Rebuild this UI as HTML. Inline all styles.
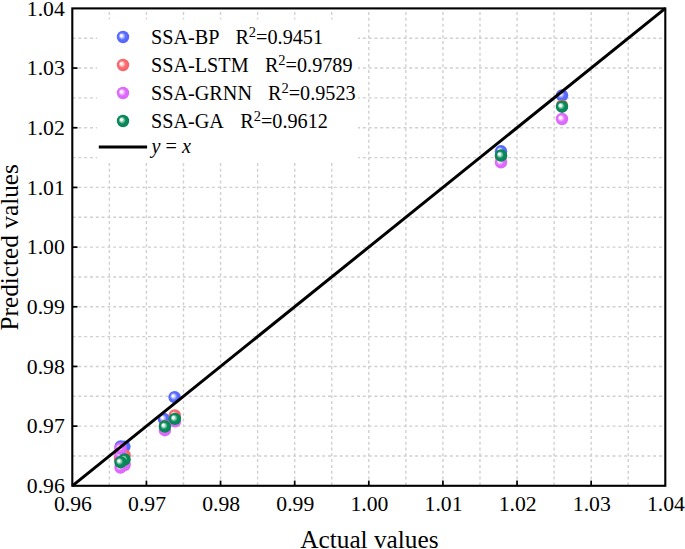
<!DOCTYPE html><html><head><meta charset="utf-8"><style>html,body{margin:0;padding:0;background:#fff;}svg{display:block;}text{font-family:"Liberation Serif",serif;fill:#000;}</style></head><body>
<svg width="685" height="549" viewBox="0 0 685 549">
<defs>
<radialGradient id="gB" cx="0.5" cy="0.5" r="0.5" fx="0.34" fy="0.37" gradientUnits="objectBoundingBox"><stop offset="0" stop-color="#fff"/><stop offset="0.14" stop-color="#fff"/><stop offset="0.58" stop-color="#5a6cff"/><stop offset="1" stop-color="#5566fa"/></radialGradient>
<radialGradient id="gR" cx="0.5" cy="0.5" r="0.5" fx="0.34" fy="0.37" gradientUnits="objectBoundingBox"><stop offset="0" stop-color="#fff"/><stop offset="0.14" stop-color="#fff"/><stop offset="0.58" stop-color="#fa6a6e"/><stop offset="1" stop-color="#f46468"/></radialGradient>
<radialGradient id="gM" cx="0.5" cy="0.5" r="0.5" fx="0.34" fy="0.37" gradientUnits="objectBoundingBox"><stop offset="0" stop-color="#fff"/><stop offset="0.14" stop-color="#fff"/><stop offset="0.58" stop-color="#e06cff"/><stop offset="1" stop-color="#db66fa"/></radialGradient>
<radialGradient id="gG" cx="0.5" cy="0.5" r="0.5" fx="0.34" fy="0.37" gradientUnits="objectBoundingBox"><stop offset="0" stop-color="#fff"/><stop offset="0.14" stop-color="#fff"/><stop offset="0.58" stop-color="#088a5a"/><stop offset="1" stop-color="#078454"/></radialGradient>
</defs>
<rect width="685" height="549" fill="#fff"/>
<g stroke="#d0d0d0" stroke-width="1.4" stroke-dasharray="3 2.806" stroke-dashoffset="2.15" fill="none"><line x1="109.36" y1="8.40" x2="109.36" y2="485.80"/><line x1="146.43" y1="8.40" x2="146.43" y2="485.80"/><line x1="183.49" y1="8.40" x2="183.49" y2="485.80"/><line x1="220.55" y1="8.40" x2="220.55" y2="485.80"/><line x1="257.61" y1="8.40" x2="257.61" y2="485.80"/><line x1="294.68" y1="8.40" x2="294.68" y2="485.80"/><line x1="331.74" y1="8.40" x2="331.74" y2="485.80"/><line x1="368.80" y1="8.40" x2="368.80" y2="485.80"/><line x1="405.86" y1="8.40" x2="405.86" y2="485.80"/><line x1="442.93" y1="8.40" x2="442.93" y2="485.80"/><line x1="479.99" y1="8.40" x2="479.99" y2="485.80"/><line x1="517.05" y1="8.40" x2="517.05" y2="485.80"/><line x1="554.11" y1="8.40" x2="554.11" y2="485.80"/><line x1="591.18" y1="8.40" x2="591.18" y2="485.80"/><line x1="628.24" y1="8.40" x2="628.24" y2="485.80"/></g>
<g stroke="#d0d0d0" stroke-width="1.4" stroke-dasharray="3 2.806" stroke-dashoffset="-0.25" fill="none"><line x1="72.30" y1="455.96" x2="665.30" y2="455.96"/><line x1="72.30" y1="426.12" x2="665.30" y2="426.12"/><line x1="72.30" y1="396.29" x2="665.30" y2="396.29"/><line x1="72.30" y1="366.45" x2="665.30" y2="366.45"/><line x1="72.30" y1="336.61" x2="665.30" y2="336.61"/><line x1="72.30" y1="306.77" x2="665.30" y2="306.77"/><line x1="72.30" y1="276.94" x2="665.30" y2="276.94"/><line x1="72.30" y1="247.10" x2="665.30" y2="247.10"/><line x1="72.30" y1="217.26" x2="665.30" y2="217.26"/><line x1="72.30" y1="187.42" x2="665.30" y2="187.42"/><line x1="72.30" y1="157.59" x2="665.30" y2="157.59"/><line x1="72.30" y1="127.75" x2="665.30" y2="127.75"/><line x1="72.30" y1="97.91" x2="665.30" y2="97.91"/><line x1="72.30" y1="68.07" x2="665.30" y2="68.07"/><line x1="72.30" y1="38.24" x2="665.30" y2="38.24"/></g>
<rect x="97" y="19.5" width="261" height="143.0" fill="#fff"/>
<circle cx="120.7" cy="446.5" r="6.2" fill="url(#gB)"/>
<circle cx="124.4" cy="446.6" r="6.2" fill="url(#gB)"/>
<circle cx="174.6" cy="397.2" r="6.2" fill="url(#gB)"/>
<circle cx="163.9" cy="419.0" r="6.2" fill="url(#gB)"/>
<circle cx="501.0" cy="151.3" r="6.2" fill="url(#gB)"/>
<circle cx="562.0" cy="95.5" r="6.2" fill="url(#gB)"/>
<circle cx="124.6" cy="455.1" r="6.2" fill="url(#gR)"/>
<circle cx="120.0" cy="459.0" r="6.2" fill="url(#gR)"/>
<circle cx="174.8" cy="415.4" r="6.2" fill="url(#gR)"/>
<circle cx="165.0" cy="426.0" r="6.2" fill="url(#gR)"/>
<circle cx="501.0" cy="156.5" r="6.2" fill="url(#gR)"/>
<circle cx="562.0" cy="105.6" r="6.2" fill="url(#gR)"/>
<circle cx="120.3" cy="454.0" r="6.2" fill="url(#gM)"/>
<circle cx="120.4" cy="448.5" r="6.2" fill="url(#gM)"/>
<circle cx="124.6" cy="465.0" r="6.2" fill="url(#gM)"/>
<circle cx="120.5" cy="467.5" r="6.2" fill="url(#gM)"/>
<circle cx="175.0" cy="421.4" r="6.2" fill="url(#gM)"/>
<circle cx="164.9" cy="430.2" r="6.2" fill="url(#gM)"/>
<circle cx="501.0" cy="162.4" r="6.2" fill="url(#gM)"/>
<circle cx="562.0" cy="119.0" r="6.2" fill="url(#gM)"/>
<circle cx="124.6" cy="459.5" r="6.2" fill="url(#gG)"/>
<circle cx="120.5" cy="462.2" r="6.2" fill="url(#gG)"/>
<circle cx="174.9" cy="418.9" r="6.2" fill="url(#gG)"/>
<circle cx="164.9" cy="426.5" r="6.2" fill="url(#gG)"/>
<circle cx="501.0" cy="155.5" r="6.2" fill="url(#gG)"/>
<circle cx="562.0" cy="106.7" r="6.2" fill="url(#gG)"/>
<line x1="72.3" y1="485.8" x2="665.3" y2="8.4" stroke="#000" stroke-width="3.0"/>
<rect x="72.3" y="8.4" width="593.00" height="477.40" fill="none" stroke="#000" stroke-width="2.1"/>
<g stroke="#000" stroke-width="1.7"><line x1="146.43" y1="485.80" x2="146.43" y2="480.60"/><line x1="72.30" y1="426.12" x2="77.50" y2="426.12"/><line x1="220.55" y1="485.80" x2="220.55" y2="480.60"/><line x1="72.30" y1="366.45" x2="77.50" y2="366.45"/><line x1="294.68" y1="485.80" x2="294.68" y2="480.60"/><line x1="72.30" y1="306.77" x2="77.50" y2="306.77"/><line x1="368.80" y1="485.80" x2="368.80" y2="480.60"/><line x1="72.30" y1="247.10" x2="77.50" y2="247.10"/><line x1="442.93" y1="485.80" x2="442.93" y2="480.60"/><line x1="72.30" y1="187.42" x2="77.50" y2="187.42"/><line x1="517.05" y1="485.80" x2="517.05" y2="480.60"/><line x1="72.30" y1="127.75" x2="77.50" y2="127.75"/><line x1="591.18" y1="485.80" x2="591.18" y2="480.60"/><line x1="72.30" y1="68.07" x2="77.50" y2="68.07"/></g>
<text x="72.90" y="510.5" font-size="21.7" text-anchor="middle">0.96</text>
<text x="147.03" y="510.5" font-size="21.7" text-anchor="middle">0.97</text>
<text x="221.15" y="510.5" font-size="21.7" text-anchor="middle">0.98</text>
<text x="295.28" y="510.5" font-size="21.7" text-anchor="middle">0.99</text>
<text x="369.40" y="510.5" font-size="21.7" text-anchor="middle">1.00</text>
<text x="443.53" y="510.5" font-size="21.7" text-anchor="middle">1.01</text>
<text x="517.65" y="510.5" font-size="21.7" text-anchor="middle">1.02</text>
<text x="591.78" y="510.5" font-size="21.7" text-anchor="middle">1.03</text>
<text x="665.90" y="510.5" font-size="21.7" text-anchor="middle">1.04</text>
<text x="64.8" y="493.10" font-size="21.7" text-anchor="end">0.96</text>
<text x="64.8" y="433.42" font-size="21.7" text-anchor="end">0.97</text>
<text x="64.8" y="373.75" font-size="21.7" text-anchor="end">0.98</text>
<text x="64.8" y="314.07" font-size="21.7" text-anchor="end">0.99</text>
<text x="64.8" y="254.40" font-size="21.7" text-anchor="end">1.00</text>
<text x="64.8" y="194.72" font-size="21.7" text-anchor="end">1.01</text>
<text x="64.8" y="135.05" font-size="21.7" text-anchor="end">1.02</text>
<text x="64.8" y="75.37" font-size="21.7" text-anchor="end">1.03</text>
<text x="64.8" y="15.70" font-size="21.7" text-anchor="end">1.04</text>
<text x="369.4" y="547.5" font-size="25.3" text-anchor="middle">Actual values</text>
<text transform="translate(18,247.3) rotate(-90)" x="0" y="0" font-size="25.3" text-anchor="middle">Predicted values</text>
<circle cx="123" cy="37.0" r="6.2" fill="url(#gB)"/>
<text x="151.0" y="44.2" font-size="20.2">SSA-BP</text>
<text x="235.4" y="44.2" font-size="20.2">R<tspan dy="-7.6" font-size="14.5">2</tspan><tspan dy="7.6">=</tspan>0.9451</text>
<circle cx="123" cy="65.0" r="6.2" fill="url(#gR)"/>
<text x="151.0" y="72.2" font-size="20.2">SSA-LSTM</text>
<text x="264.9" y="72.2" font-size="20.2">R<tspan dy="-7.6" font-size="14.5">2</tspan><tspan dy="7.6">=</tspan>0.9789</text>
<circle cx="123" cy="93.0" r="6.2" fill="url(#gM)"/>
<text x="151.0" y="100.2" font-size="20.2">SSA-GRNN</text>
<text x="268.0" y="100.2" font-size="20.2">R<tspan dy="-7.6" font-size="14.5">2</tspan><tspan dy="7.6">=</tspan>0.9523</text>
<circle cx="123" cy="121.0" r="6.2" fill="url(#gG)"/>
<text x="151.0" y="128.2" font-size="20.2">SSA-GA</text>
<text x="240.2" y="128.2" font-size="20.2">R<tspan dy="-7.6" font-size="14.5">2</tspan><tspan dy="7.6">=</tspan>0.9612</text>
<line x1="98.8" y1="146.9" x2="147.1" y2="146.9" stroke="#000" stroke-width="3"/>
<text x="151.5" y="153.2" font-size="20.2"><tspan font-style="italic">y</tspan> = <tspan font-style="italic">x</tspan></text>
</svg></body></html>
